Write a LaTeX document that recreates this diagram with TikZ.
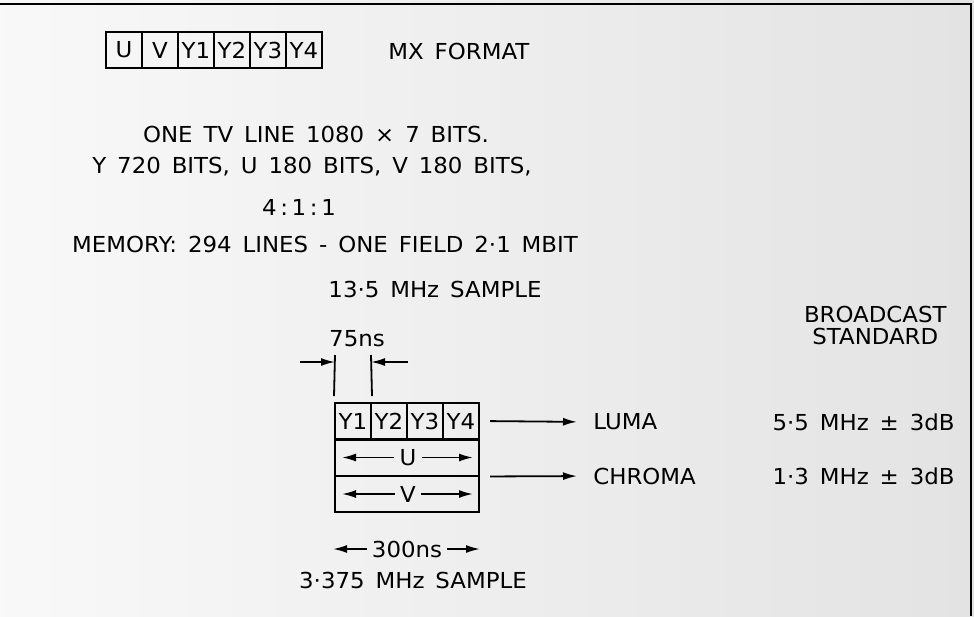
\documentclass[tikz,border=0pt]{standalone}
\usepackage{fontspec}
\setmainfont{DejaVu Sans}[WordSpace=1.5, FakeStretch=1.04]
\usetikzlibrary{arrows.meta}

\tikzset{
  cell/.style={draw, line width=1pt, minimum width=18pt, minimum height=18pt, inner sep=0pt},
  band/.style={draw, line width=1pt, minimum width=72pt, minimum height=18pt, inner sep=0pt},
  txt/.style={inner sep=0pt},
  dimlab/.style={inner sep=2.5pt},
  sig/.style={line width=0.9pt, -{Latex[length=7pt, width=4pt]}},
  ext/.style={line width=0.9pt},
}

\begin{document}
\begin{tikzpicture}[x=0.5pt, y=-0.5pt, font=\fontsize{11}{13}\selectfont]
    % FONS I MARC
    \useasboundingbox (0,0) rectangle (974,616);
    \shade[left color=gray!5, right color=gray!22] (0,0) rectangle (974,616);
    \draw[line width=1pt] (0,4) -- (971,4) -- (971,616);

    % FORMAT MX
    \foreach \n/\t [count=\i from 0] in {fu/U, fv/V, fy1/Y1, fy2/Y2, fy3/Y3, fy4/Y4} {
        \node[cell] (\n) at ({124+36*\i}, 50) {\t};
    }
    \node[txt, anchor=west] (mx) at (388, 51) {MX FORMAT};

    % TEXT
    \node[txt] (l1) at (316, 134) {ONE TV LINE 1080 × 7 BITS.};
    \node[txt] (l2) at (312, 167) {Y 720 BITS, U 180 BITS, V 180 BITS,};
    \node[txt] (l3) at (299, 207) {4\,:\,1\,:\,1};
    \node[txt] (l4) at (325, 244) {MEMORY: 294 LINES - ONE FIELD 2·1 MBIT};
    \node[txt] (l5) at (435, 289) {13·5 MHz SAMPLE};
    \node[txt, align=center, anchor=east] (bc) at (947, 325) {BROADCAST\\[-2pt]STANDARD};

    % MOSTRES
    \foreach \n/\t [count=\i from 0] in {y1/Y1, y2/Y2, y3/Y3, y4/Y4} {
        \node[cell] (\n) at ({353+36*\i}, 421) {\t};
    }
    \node[band] (urow) at (407, 457.5) {};
    \node[band] (vrow) at (407, 494) {};
    \node[dimlab] (ulab) at (408, 457.5) {U};
    \node[dimlab] (vlab) at (408, 494) {V};
    \coordinate (ul) at (342, 457.5);
    \coordinate (ur) at (473, 457.5);
    \coordinate (vl) at (342, 494);
    \coordinate (vr) at (473, 494);
    \draw[sig] (ulab) -- (ul);
    \draw[sig] (ulab) -- (ur);
    \draw[sig] (vlab) -- (vl);
    \draw[sig] (vlab) -- (vr);

    % COTA 75ns
    \node[txt] (n75) at (357, 339) {75ns};
    \coordinate (dl) at (335, 355);
    \coordinate (dr) at (371, 355);
    \draw[ext] ([yshift=3pt]y1.north west) -- (dl);
    \draw[ext] ([yshift=3pt]y1.north east) -- (dr);
    \coordinate (al) at (300, 362);
    \coordinate (ar) at (408, 362);
    \draw[sig] (al) -- (al -| dl);
    \draw[sig] (ar) -- (ar -| dr);

    % COTA 300ns
    \node[dimlab] (n300) at (407, 549) {300ns};
    \coordinate (ml) at (333, 549);
    \coordinate (mr) at (480, 549);
    \draw[sig] (n300) -- (ml);
    \draw[sig] (n300) -- (mr);
    \node[txt] (s3) at (413, 580) {3·375 MHz SAMPLE};

    % SORTIDES
    \node[txt, anchor=west] (luma) at (593, 422) {LUMA};
    \node[txt, anchor=west] (chroma) at (593, 476) {CHROMA};
    \draw[sig, shorten <=5pt, shorten >=8pt] (y4.east) -- (luma.west);
    \draw[sig, shorten <=5pt, shorten >=8pt] (urow.south east) -- (chroma.west);
    \node[txt, anchor=east] (bl) at (955, 422) {5·5 MHz ± 3dB};
    \node[txt, anchor=east] (bch) at (955, 476) {1·3 MHz ± 3dB};
\end{tikzpicture}
\end{document}
